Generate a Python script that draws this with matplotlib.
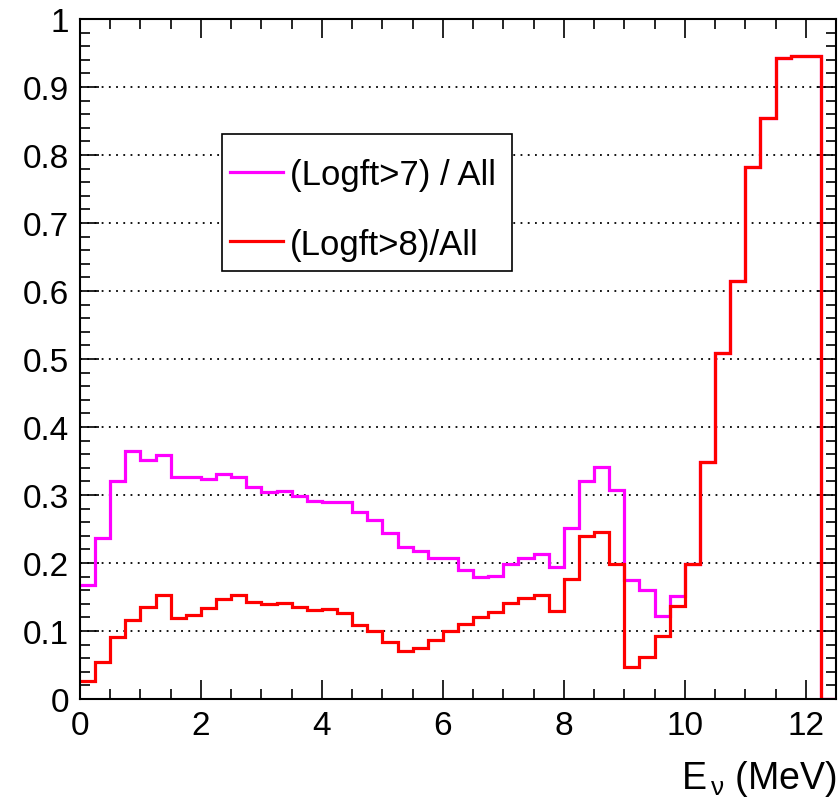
import matplotlib
matplotlib.use("Agg")
import matplotlib.pyplot as plt
import numpy as np
from matplotlib.ticker import MultipleLocator
from matplotlib.patches import Rectangle

# bin edges, 0.25 MeV wide
edges = np.arange(0, 12.5 + 0.001, 0.25)

# (Logft>7) / All
ratio7 = [0.168, 0.237, 0.321, 0.365, 0.352, 0.359, 0.327, 0.326, 0.324, 0.331,
          0.327, 0.312, 0.304, 0.306, 0.298, 0.291, 0.289, 0.289, 0.275, 0.263,
          0.244, 0.224, 0.217, 0.207, 0.207, 0.190, 0.180, 0.181, 0.198, 0.207,
          0.213, 0.194, 0.252, 0.321, 0.341, 0.307, 0.175, 0.161, 0.122, 0.151,
          0.199, 0.348, 0.509, 0.614, 0.782, 0.855, 0.943, 0.946, 0.945, 0.0]

# (Logft>8) / All
ratio8 = [0.026, 0.055, 0.091, 0.116, 0.135, 0.153, 0.119, 0.123, 0.134, 0.147,
          0.153, 0.142, 0.139, 0.141, 0.136, 0.131, 0.133, 0.126, 0.109, 0.100,
          0.084, 0.070, 0.075, 0.087, 0.100, 0.111, 0.120, 0.128, 0.141, 0.149,
          0.153, 0.130, 0.176, 0.239, 0.245, 0.198, 0.047, 0.062, 0.092, 0.137,
          0.199, 0.348, 0.509, 0.614, 0.782, 0.855, 0.943, 0.946, 0.945, 0.0]

plt.rcParams['font.family'] = ['Liberation Sans', 'DejaVu Sans']
plt.rcParams['mathtext.fontset'] = 'custom'
plt.rcParams['mathtext.rm'] = 'Liberation Sans'
plt.rcParams['mathtext.it'] = 'Liberation Sans'

fig = plt.figure(figsize=(8.4, 8.03), dpi=100)
ax = fig.add_axes([80/840, 1 - 700/803, 756/840, 680/803])

ax.stairs(ratio7, edges, color='#ff00ff', linewidth=2.3, baseline=None,
          label='(Logft>7) / All')
ax.stairs(ratio8, edges, color='#ff0000', linewidth=2.3, baseline=None,
          label='(Logft>8)/All')

ax.set_xlim(0, 12.5)
ax.set_ylim(0, 1)

ax.xaxis.set_major_locator(MultipleLocator(2))
ax.xaxis.set_minor_locator(MultipleLocator(0.5))
ax.yaxis.set_major_locator(MultipleLocator(0.1))
ax.yaxis.set_minor_locator(MultipleLocator(0.02))
ax.set_yticks(np.arange(0, 1.01, 0.1))
ax.set_yticklabels(['0', '0.1', '0.2', '0.3', '0.4', '0.5', '0.6', '0.7', '0.8', '0.9', '1'])

ax.tick_params(which='both', direction='in', top=True, right=True, width=1.2,
               labelsize=24, pad=8)
ax.tick_params(which='major', length=14)
ax.tick_params(which='minor', length=7)
for s in ax.spines.values():
    s.set_linewidth(1.5)

# dotted horizontal grid
ax.yaxis.grid(True, linestyle=(0, (1, 3)), color='black', linewidth=1.3)
ax.set_axisbelow(True)

ax.set_xlabel(r'E$_{\,\nu}$ (MeV)', fontsize=27, loc='right', labelpad=12)

# legend box drawn separately, entries placed inside
ax.add_patch(Rectangle((0.188, 0.629), 0.384, 0.202, transform=ax.transAxes,
                       facecolor='white', edgecolor='black', linewidth=1.2,
                       zorder=4))
leg = ax.legend(loc='upper left', bbox_to_anchor=(0.199, 0.795),
                fontsize=25, frameon=False, borderaxespad=0, borderpad=0,
                handlelength=1.5, handletextpad=0.22, labelspacing=1.04)
leg.set_zorder(5)

fig.savefig('out.png', dpi=100)
